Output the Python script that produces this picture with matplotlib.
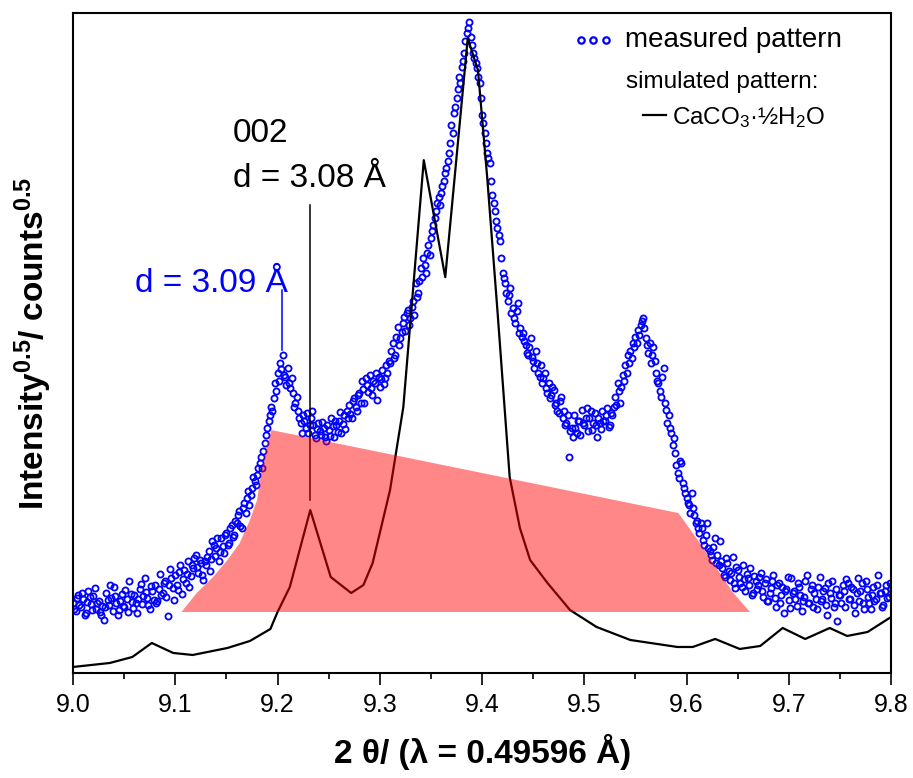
import numpy as np
import matplotlib
matplotlib.use("Agg")
import matplotlib.pyplot as plt

plt.rcParams['font.family'] = ['Liberation Sans', 'DejaVu Sans']
plt.rcParams['mathtext.fontset'] = 'custom'
plt.rcParams['mathtext.rm'] = 'Liberation Sans'
plt.rcParams['mathtext.it'] = 'Liberation Sans:italic'
plt.rcParams['mathtext.bf'] = 'Liberation Sans:bold'

# measured pattern, sqrt(counts) in arbitrary units, 2theta 9.0 .. 9.8 (8 points per 0.01)
measured_y = [
    70, 64, 62, 75, 78, 68, 66, 80,   74, 58, 60, 71, 82, 76, 69, 63,
    77, 85, 64, 70, 72, 61, 58, 67,   53, 66, 80, 73, 68, 88, 75, 62,
    86, 77, 70, 58, 63, 72, 79, 67,   66, 83, 74, 61, 92, 79, 71, 65,
    78, 70, 60, 74, 84, 89, 69, 77,   95, 81, 75, 68, 64, 87, 82, 73,
    88, 70, 72, 84, 99, 78, 80, 90,   92, 76, 57, 88, 104, 95, 85, 73,
    98, 88, 83, 101, 108, 79, 94, 103,  90, 99, 112, 86, 97, 108, 105, 115,
    118, 106, 100, 113, 110, 98, 93, 112,  108, 116, 122, 102, 114, 132, 128, 117,
    125, 135, 112, 121, 135, 127, 120, 138,  140, 128, 130, 145, 148, 136, 138, 152,
    150, 158, 162, 147, 145, 165, 170, 160,  175, 182, 168, 178, 185, 196, 192, 188,
    198, 205, 210, 216, 205, 222, 230, 238,  245, 252, 258, 266, 262, 275, 290, 282,
    300, 292, 310, 304, 318, 298, 296, 288,  305, 290, 285, 295, 280, 266, 270, 276,
    262, 255, 250, 240, 258, 252, 245, 260,  240, 248, 255, 262, 248, 238, 235, 244,
    250, 242, 238, 251, 245, 236, 232, 248,  243, 237, 255, 247, 236, 252, 248, 241,
    252, 261, 240, 249, 258, 244, 262, 255,  268, 259, 255, 272, 275, 266, 262, 278,
    280, 270, 292, 284, 270, 295, 288, 281,  298, 285, 278, 292, 290, 300, 273, 296,
    286, 294, 303, 289, 295, 308, 300, 312,  310, 322, 330, 315, 318, 336, 346, 328,
    335, 341, 350, 356, 342, 360, 363, 348,  355, 366, 372, 358, 390, 376, 380, 392,
    405, 396, 415, 408, 400, 420, 428, 418,  435, 442, 448, 455, 462, 470, 476, 468,
    480, 487, 492, 500, 505, 512, 520, 530,  548, 540, 560, 566, 575, 584, 596, 590,
    606, 612, 620, 632, 640, 645, 651, 636,  628, 620, 615, 610, 605, 596, 590, 575,
    558, 550, 540, 530, 520, 515, 510, 492,  478, 470, 462, 452, 445, 438, 432, 415,
    400, 395, 390, 380, 372, 378, 385, 360,  365, 355, 350, 362, 370, 340, 345, 336,
    340, 332, 328, 320, 318, 326, 335, 316,  312, 305, 322, 310, 300, 296, 308, 290,
    295, 300, 285, 280, 290, 275, 278, 286,  283, 268, 270, 262, 260, 272, 276, 255,
    262, 248, 250, 258, 216, 242, 245, 236,  258, 245, 240, 252, 252, 238, 263, 250,
    248, 255, 265, 242, 255, 262, 243, 250,  260, 248, 236, 255, 250, 244, 262, 252,
    252, 258, 265, 246, 248, 260, 258, 266,  276, 268, 290, 282, 270, 286, 298, 292,
    308, 300, 318, 310, 322, 315, 330, 326,  336, 330, 343, 338, 348, 352, 355, 345,
    335, 328, 320, 330, 310, 318, 326, 312,  300, 292, 290, 282, 276, 296, 305, 270,
    263, 250, 258, 245, 240, 228, 235, 220,  208, 200, 195, 212, 210, 190, 185, 180,
    175, 170, 168, 160, 180, 165, 158, 150,  152, 145, 140, 150, 145, 133, 128, 138,
    150, 125, 122, 118, 113, 126, 135, 110,  118, 108, 132, 112, 105, 98, 96, 115,
    110, 102, 93, 100, 116, 90, 85, 106,   103, 96, 90, 86, 108, 94, 82, 99,
    95, 88, 105, 78, 80, 97, 92, 84,   88, 96, 100, 82, 76, 90, 94, 72,
    72, 80, 85, 92, 98, 75, 66, 88,   90, 70, 78, 86, 60, 82, 84, 96,
    73, 65, 95, 80, 82, 74, 67, 90,   86, 78, 62, 72, 76, 92, 98, 70,
    70, 84, 88, 66, 80, 74, 64, 86,   96, 72, 74, 82, 85, 68, 58, 90,
    80, 75, 92, 66, 70, 84, 52, 78,   78, 70, 88, 82, 66, 94, 90, 74,
    74, 86, 84, 68, 60, 80, 95, 72,   82, 90, 70, 64, 92, 84, 76, 70,
    64, 78, 86, 72, 74, 88, 98, 80,   80, 66, 68, 82, 88, 75, 76, 90,
    84,
]
measured_x = np.linspace(9.0, 9.8, len(measured_y))

# simulated pattern CaCO3 . 1/2 H2O
sim_x = [9.000, 9.036, 9.058, 9.077, 9.098, 9.117, 9.151, 9.173, 9.193, 9.200,
         9.212, 9.232, 9.252, 9.272, 9.284, 9.293, 9.310, 9.323, 9.343, 9.364,
         9.386, 9.396, 9.405, 9.415, 9.427, 9.437, 9.447, 9.464, 9.486, 9.512,
         9.545, 9.591, 9.606, 9.628, 9.652, 9.672, 9.694, 9.716, 9.740, 9.757,
         9.777, 9.800]
sim_y = [6, 10, 16, 30, 20, 18, 25, 32, 44, 61,
         86, 163, 96, 80, 88, 110, 183, 266, 513, 396,
         635, 603, 496, 363, 196, 145, 113, 90, 63, 46,
         33, 26, 26, 34, 24, 27, 45, 34, 45, 37,
         41, 56]

# highlighted region
area_x = [9.106, 9.121, 9.137, 9.151, 9.163, 9.173, 9.180, 9.184, 9.188, 9.194,
          9.592, 9.613, 9.645, 9.662]
area_y = [61, 80, 96, 113, 130, 153, 173, 200, 220, 243,
          160, 130, 81, 61]

fig = plt.figure(figsize=(9.13, 7.78), dpi=100)
ax = fig.add_axes([0.080, 0.135, 0.896, 0.848])

ax.plot(measured_x, measured_y, 'o', mfc='none', mec='#0000ff', ms=4.4, mew=1.3, zorder=2)
ax.plot(sim_x, sim_y, '-', color='black', lw=1.6, zorder=3)
ax.fill(area_x, area_y, color='red', alpha=0.47, lw=0, zorder=4)

# annotations
ax.plot([9.2318, 9.2318], [173, 468], color='black', lw=1.1)
ax.text(9.1565, 540, '002', fontsize=24, va='center', ha='left')
ax.text(9.1565, 495, 'd = 3.08 Å', fontsize=24, va='center', ha='left')
ax.plot([9.2044, 9.2044], [323, 383], color='#0000ff', lw=1.1)
ax.text(9.0606, 390, 'd = 3.09 Å', fontsize=24, va='center', ha='left', color='#0000ff')

# legend drawn by hand
ax.plot([9.497, 9.508, 9.521], [633, 633, 633], 'o', mfc='none', mec='#0000ff', ms=4.6, mew=1.6,
        clip_on=False)
ax.text(9.5395, 633, 'measured pattern', fontsize=20, va='center', ha='left')
ax.text(9.5405, 591, 'simulated pattern:', fontsize=17.5, va='center', ha='left')
ax.plot([9.5575, 9.5795], [558, 558], color='black', lw=1.6)
ax.text(9.5860, 556, 'CaCO$_3$·½H$_2$O', fontsize=17.5, va='center', ha='left')

ax.set_xlim(9.0, 9.8)
ax.set_ylim(0, 660)
ax.set_xticks(np.arange(9.0, 9.81, 0.1))
ax.set_xticks(np.arange(9.05, 9.8, 0.1), minor=True)
ax.set_xticklabels(['9.0', '9.1', '9.2', '9.3', '9.4', '9.5', '9.6', '9.7', '9.8'])
ax.set_yticks([])
ax.tick_params(axis='x', which='major', direction='out', length=8.5, width=1.2,
               labelsize=18, pad=6, top=False)
ax.tick_params(axis='x', which='minor', direction='out', length=4.5, width=1.2, top=False)
for s in ax.spines.values():
    s.set_linewidth(1.5)

ax.set_xlabel('2 θ/ (λ = 0.49596 Å)', fontsize=24, fontweight='bold', labelpad=12)
ax.set_ylabel('Intensity$^{\\mathbf{0.5}}$/ counts$^{\\mathbf{0.5}}$', fontsize=24,
              fontweight='bold', labelpad=14)

fig.savefig('out.png', dpi=100)
